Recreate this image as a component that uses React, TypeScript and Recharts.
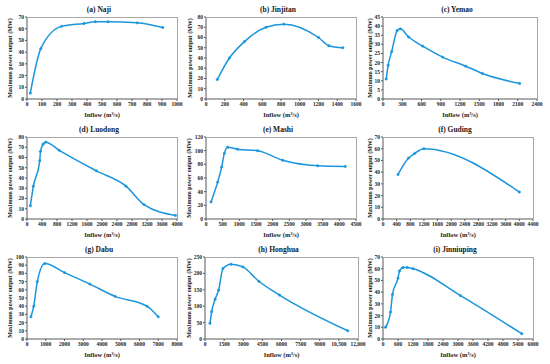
import React from 'react';
import { LineChart, Line, XAxis, YAxis } from 'recharts';

// ---- data (inflow in m³/s, maximum power output in MW) ----
const najiInflow = [22, 92, 230, 380, 455, 540, 735, 905];
const najiPower = [5, 43, 62, 64.5, 66, 66, 65, 61];
const najiXTicks = [0, 100, 200, 300, 400, 500, 600, 700, 800, 900, 1000];
const najiYTicks = [0, 10, 20, 30, 40, 50, 60, 70];

const jinjitanInflow = [120, 250, 410, 640, 830, 1200, 1310, 1460];
const jinjitanPower = [19, 40, 56, 70, 73, 60, 52, 50];
const jinjitanXTicks = [0, 200, 400, 600, 800, 1000, 1200, 1400, 1600];
const jinjitanYTicks = [0, 10, 20, 30, 40, 50, 60, 70, 80];

const yemaoInflow = [50, 80, 135, 220, 270, 400, 620, 930, 1290, 1550, 2130];
const yemaoPower = [11, 18.5, 26, 37.5, 38.5, 34, 29, 23, 18, 14, 8.5];
const yemaoXTicks = [0, 300, 600, 900, 1200, 1500, 1800, 2100, 2400];
const yemaoYTicks = [0, 5, 10, 15, 20, 25, 30, 35, 40, 45];

const luodongInflow = [90, 170, 340, 360, 430, 500, 860, 1850, 2640, 3120, 3960];
const luodongPower = [13, 32, 57, 66, 73, 75, 67, 47, 32, 14, 3.5];
const luodongXTicks = [0, 400, 800, 1200, 1600, 2000, 2400, 2800, 3200, 3600, 4000];
const luodongYTicks = [0, 10, 20, 30, 40, 50, 60, 70, 80];

const mashiInflow = [150, 350, 470, 550, 650, 950, 1550, 2300, 3350, 4180];
const mashiPower = [25, 54, 76, 96, 105, 102, 100, 86, 78, 77];
const mashiXTicks = [0, 500, 1000, 1500, 2000, 2500, 3000, 3500, 4000, 4500];
const mashiYTicks = [0, 20, 40, 60, 80, 100, 120];

const gudingInflow = [440, 750, 930, 1200, 4000];
const gudingPower = [38, 52, 56, 60, 23];
const gudingXTicks = [0, 400, 800, 1200, 1600, 2000, 2400, 2800, 3200, 3600, 4000, 4400];
const gudingYTicks = [0, 10, 20, 30, 40, 50, 60, 70];

const dabuInflow = [210, 360, 550, 950, 2000, 3350, 4700, 6400, 7000];
const dabuPower = [27, 40, 70, 92, 81, 67, 52, 40, 27];
const dabuXTicks = [0, 1000, 2000, 3000, 4000, 5000, 6000, 7000, 8000];
const dabuYTicks = [0, 10, 20, 30, 40, 50, 60, 70, 80, 90, 100];

const honghuaInflow = [390, 520, 790, 1070, 1410, 2040, 2960, 4220, 5840, 11200];
const honghuaPower = [48, 83, 121, 149, 215, 228, 220, 176, 134, 25];
const honghuaXTicks = [0, 1500, 3000, 4500, 6000, 7500, 9000, 10500, 12000];
const honghuaXTickLabels = ['0', '1500', '3000', '4500', '6000', '7500', '9000', '10,500', '12,000'];
const honghuaYTicks = [0, 50, 100, 150, 200, 250];

const jinniupingInflow = [100, 300, 380, 600, 660, 800, 970, 1200, 3100, 5550];
const jinniupingPower = [10, 23, 38, 52, 58, 61, 61, 60, 37, 4.5];
const jinniupingXTicks = [0, 600, 1200, 1800, 2400, 3000, 3600, 4200, 4800, 5400, 6000];
const jinniupingYTicks = [0, 10, 20, 30, 40, 50, 60, 70];

const titles = ['(a) Naji', '(b) Jinjitan', '(c) Yemao', '(d) Luodong', '(e) Mashi', '(f) Guding', '(g) Dabu', '(h) Honghua', '(i) Jinniuping'];

const panels = [
  { inflow: najiInflow, power: najiPower, xTicks: najiXTicks, yTicks: najiYTicks, plotLeft: 27, plotRight: 177, yTitleX: 10 },
  { inflow: jinjitanInflow, power: jinjitanPower, xTicks: jinjitanXTicks, yTicks: jinjitanYTicks, plotLeft: 23, plotRight: 173, yTitleX: 7 },
  { inflow: yemaoInflow, power: yemaoPower, xTicks: yemaoXTicks, yTicks: yemaoYTicks, plotLeft: 17, plotRight: 171, yTitleX: 4 },
  { inflow: luodongInflow, power: luodongPower, xTicks: luodongXTicks, yTicks: luodongYTicks, plotLeft: 27, plotRight: 177, yTitleX: 10 },
  { inflow: mashiInflow, power: mashiPower, xTicks: mashiXTicks, yTicks: mashiYTicks, plotLeft: 23, plotRight: 173, yTitleX: 6 },
  { inflow: gudingInflow, power: gudingPower, xTicks: gudingXTicks, yTicks: gudingYTicks, plotLeft: 17, plotRight: 167, yTitleX: 4 },
  { inflow: dabuInflow, power: dabuPower, xTicks: dabuXTicks, yTicks: dabuYTicks, plotLeft: 27, plotRight: 177, yTitleX: 10 },
  { inflow: honghuaInflow, power: honghuaPower, xTicks: honghuaXTicks, yTicks: honghuaYTicks, plotLeft: 22, plotRight: 175, yTitleX: 6, xLabels: honghuaXTickLabels },
  { inflow: jinniupingInflow, power: jinniupingPower, xTicks: jinniupingXTicks, yTicks: jinniupingYTicks, plotLeft: 17, plotRight: 167, yTitleX: 4 },
];

const FONT = '"Liberation Serif", "Times New Roman", serif';
const LINE = '#1b96dc';
const AXIS = '#595959';
const FRAME = '#a8a8a8';
const PANEL_W = 183;
const PANEL_H = 121;
const TOP = 17;
const X_AXIS_H = 22;

function Panel({ p, title, left, top }: any) {
  const data = p.inflow.map((x: number, i: number) => ({ x, y: p.power[i] }));
  const xMax = p.xTicks[p.xTicks.length - 1];
  const yMax = p.yTicks[p.yTicks.length - 1];
  const tickStyle = { fontSize: 5.5, fontFamily: FONT, fontWeight: 700, fill: '#262626' };
  const center = (p.plotLeft + p.plotRight) / 2 - 3;
  return (
    <div style={{ position: 'absolute', left, top, width: PANEL_W, height: PANEL_H }}>
      <div
        style={{
          position: 'absolute', left: center - 60, width: 120, top: 5, textAlign: 'center',
          fontFamily: FONT, fontWeight: 700, fontSize: 7.5, lineHeight: '9px', color: '#1a1a1a',
        }}
      >
        {title}
      </div>
      <div style={{ position: 'absolute', left: 0, top: 0 }}>
        <LineChart
          width={PANEL_W}
          height={PANEL_H}
          data={data}
          margin={{ top: TOP, right: PANEL_W - p.plotRight, bottom: 0, left: 0 }}
        >
          <XAxis
            type="number"
            dataKey="x"
            domain={[0, xMax]}
            ticks={p.xTicks}
            interval={0}
            height={X_AXIS_H}
            tick={tickStyle}
            tickSize={2}
            tickMargin={1}
            stroke={AXIS}
            tickFormatter={(v: number, i: number) => (p.xLabels ? p.xLabels[i] : String(v))}
            allowDataOverflow
            label={{
              value: 'Inflow (m³/s)', position: 'insideBottom', offset: 4,
              style: { fontSize: 6.5, fontFamily: FONT, fontWeight: 700, fill: '#1a1a1a' },
            }}
          />
          <YAxis
            type="number"
            domain={[0, yMax]}
            ticks={p.yTicks}
            interval={0}
            width={p.plotLeft}
            tick={tickStyle}
            tickSize={2}
            tickMargin={1}
            stroke={AXIS}
            allowDataOverflow
            label={{
              value: 'Maximum power output (MW)', angle: -90, position: 'insideLeft', offset: p.yTitleX,
              style: { textAnchor: 'middle', fontSize: 6, fontFamily: FONT, fontWeight: 700, fill: '#1a1a1a' },
            }}
          />
          <Line
            type="monotone"
            dataKey="y"
            stroke={LINE}
            strokeWidth={1.5}
            dot={{ r: 1.2, fill: LINE, stroke: LINE, strokeWidth: 0.5 }}
            isAnimationActive={false}
          />
        </LineChart>
      </div>
      <div
        style={{
          position: 'absolute', left: p.plotLeft, top: TOP,
          width: p.plotRight - p.plotLeft + 1, height: PANEL_H - TOP - X_AXIS_H,
          borderTop: `1px solid ${FRAME}`, borderRight: `1px solid ${FRAME}`,
          boxSizing: 'border-box', pointerEvents: 'none', zIndex: 2,
        }}
      />
    </div>
  );
}

export default function App() {
  const colLeft = [0, 183, 366];
  const rowTop = [0, 120, 240];
  return (
    <div style={{ position: 'fixed', left: 0, top: 0, width: 550, height: 364, background: '#fff', overflow: 'hidden' }}>
      {panels.map((p, i) => (
        <Panel key={i} p={p} title={titles[i]} left={colLeft[i % 3]} top={rowTop[Math.floor(i / 3)]} />
      ))}
    </div>
  );
}
